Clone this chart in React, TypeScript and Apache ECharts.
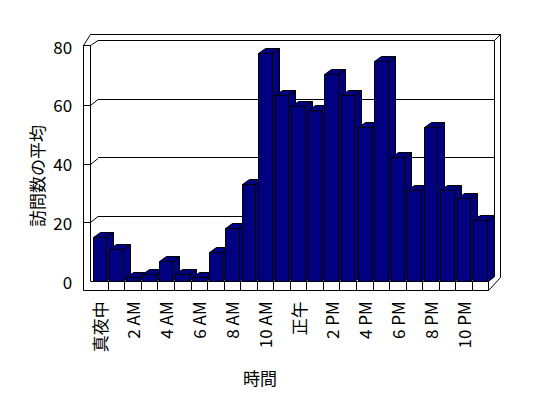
import React, { useEffect, useRef } from 'react';
import * as echarts from 'echarts';

const categories = [
  '真夜中', '1 AM', '2 AM', '3 AM', '4 AM', '5 AM', '6 AM', '7 AM', '8 AM', '9 AM', '10 AM', '11 AM',
  '正午', '1 PM', '2 PM', '3 PM', '4 PM', '5 PM', '6 PM', '7 PM', '8 PM', '9 PM', '10 PM', '11 PM',
];
const visits = [
  15, 11, 1.5, 2.6, 6.8, 2.6, 1.5, 9.8, 18, 33, 77.5, 63.5,
  59.6, 58.4, 70.4, 63.5, 52.3, 74.9, 42.1, 31.2, 52.3, 31.2, 28.2, 21,
];
const yTicks = [0, 20, 40, 60, 80];
const yTitle = '訪問数の平均';
const xTitle = '時間';

const FONT = '"Noto Sans CJK JP", "Noto Sans", sans-serif';
const NAVY = '#000080';

export default function App() {
  const ref = useRef<HTMLDivElement>(null);
  useEffect(() => {
    if (!ref.current) return;
    const chart = echarts.init(ref.current, undefined, { renderer: 'svg' });
    const r = (v: number) => Math.round(v) + 0.5;
    const option: any = {
      animation: false,
      backgroundColor: '#fff',
      grid: [
        { left: 91.2, right: 59.6, top: 46, bottom: 116.7 },
        { left: 98, right: 54, top: 40, bottom: 122.9 },
      ],
      xAxis: [
        {
          gridIndex: 0,
          type: 'category',
          data: categories,
          axisLine: { show: true, lineStyle: { color: '#000', width: 1 } },
          axisTick: { show: false },
          splitLine: { show: false },
          axisLabel: { interval: 1, rotate: 90, margin: 20, fontSize: 17, color: '#000', fontFamily: FONT },
        },
        { gridIndex: 1, type: 'category', data: categories, show: false },
      ],
      yAxis: [
        {
          gridIndex: 0,
          type: 'value',
          min: yTicks[0],
          max: yTicks[yTicks.length - 1],
          interval: 20,
          offset: 8,
          axisLine: { show: false },
          axisTick: { show: false },
          splitLine: { show: false },
          axisLabel: { margin: 11, fontSize: 17, color: '#000', fontFamily: FONT },
        },
        {
          gridIndex: 1,
          type: 'value',
          min: yTicks[0],
          max: yTicks[yTicks.length - 1],
          interval: 20,
          axisLine: { show: false },
          axisTick: { show: false },
          axisLabel: { show: false },
          splitLine: { show: true, showMinLine: false, lineStyle: { color: '#000', width: 1 } },
        },
      ],
      series: [
        {
          type: 'custom',
          xAxisIndex: 0,
          yAxisIndex: 0,
          z: 5,
          encode: { x: 0, y: 1 },
          data: visits.map((v, i) => [i, v]),
          renderItem: (params: any, api: any) => {
            const i = api.value(0);
            const v = api.value(1);
            const top = api.coord([i, v]);
            const base = api.coord([i, 0]);
            const band = api.size([1, 0])[0];
            const w = band * 0.815;
            const x0 = r(top[0] - w / 2);
            const x1 = r(top[0] + w / 2);
            const yt = r(top[1]);
            const yb = r(base[1]);
            const dx = 7;
            const dy = 5;
            const style = { fill: NAVY, stroke: '#000', lineWidth: 1 };
            return {
              type: 'group',
              children: [
                { type: 'polygon', shape: { points: [[x1, yb], [x1, yt], [x1 + dx, yt - dy], [x1 + dx, yb - dy]] }, style },
                { type: 'polygon', shape: { points: [[x0, yt], [x1, yt], [x1 + dx, yt - dy], [x0 + dx, yt - dy]] }, style },
                { type: 'rect', shape: { x: x0, y: yt, width: x1 - x0, height: yb - yt }, style },
              ],
            };
          },
        },
      ],
    };
    chart.setOption(option);

    const yf = (v: number) => chart.convertToPixel({ yAxisIndex: 0 } as any, v) as number;
    const yb = (v: number) => chart.convertToPixel({ yAxisIndex: 1 } as any, v) as number;
    const c0 = chart.convertToPixel({ xAxisIndex: 0 } as any, 0) as number;
    const c1 = chart.convertToPixel({ xAxisIndex: 0 } as any, 1) as number;
    const band = c1 - c0;
    const floorTop = r(yf(0));
    const floorBottom = floorTop + 9;
    const xL = 83.5, xLi = 90.5, xB = 98;
    const xRight = r(c0 - band / 2 + band * categories.length);
    const xBR = 494.5, xOR = 500.5, yTopOuter = 34.5;
    const ln = (x1: number, y1: number, x2: number, y2: number) => ({
      type: 'line', z: 1, shape: { x1, y1, x2, y2 }, style: { stroke: '#000', lineWidth: 1 },
    });
    const g: any[] = [];
    const y80f = r(yf(80)) - 1;
    // left wall
    g.push(ln(xL, y80f, xL, floorBottom));
    g.push(ln(xLi, y80f, xLi, floorTop));
    g.push(ln(xL, y80f, xLi, y80f));
    g.push(ln(xL, y80f, xLi, yTopOuter));
    g.push(ln(xLi, yTopOuter, xOR, yTopOuter));
    yTicks.filter((t) => t > 0).forEach((t) => {
      const a = t === 80 ? y80f : r(yf(t));
      g.push(ln(xL, a, xLi, a));
      g.push(ln(xLi, a, xB, r(yb(t))));
    });
    // right side
    g.push(ln(xBR, r(yb(80)), xBR, r(yb(0)) + 1));
    g.push(ln(xOR, yTopOuter, xOR, r(yb(0)) + 2));
    g.push(ln(xBR, r(yb(80)), xOR, yTopOuter));
    g.push(ln(xOR, r(yb(0)) + 2, xRight, floorBottom));
    g.push(ln(xRight, floorTop, xBR, r(yb(0)) + 1));
    // floor
    g.push(ln(xL, floorBottom, xRight, floorBottom));
    for (let k = 1; k <= categories.length; k++) {
      const x = r(c0 - band / 2 + band * k);
      g.push(ln(x, floorTop, x, floorBottom));
    }
    // titles
    g.push({
      type: 'text', x: 36.5, y: 176, rotation: Math.PI / 2,
      style: { text: yTitle, font: `17px ${FONT}`, fill: '#000', align: 'center', verticalAlign: 'middle' },
    });
    g.push({
      type: 'text', x: 260, y: 377,
      style: { text: xTitle, font: `17px ${FONT}`, fill: '#000', align: 'center', verticalAlign: 'middle' },
    });
    chart.setOption({ graphic: g });

    return () => chart.dispose();
  }, []);
  return <div ref={ref} style={{ position: 'fixed', left: 0, top: 0, width: 548, height: 398 }} />;
}
